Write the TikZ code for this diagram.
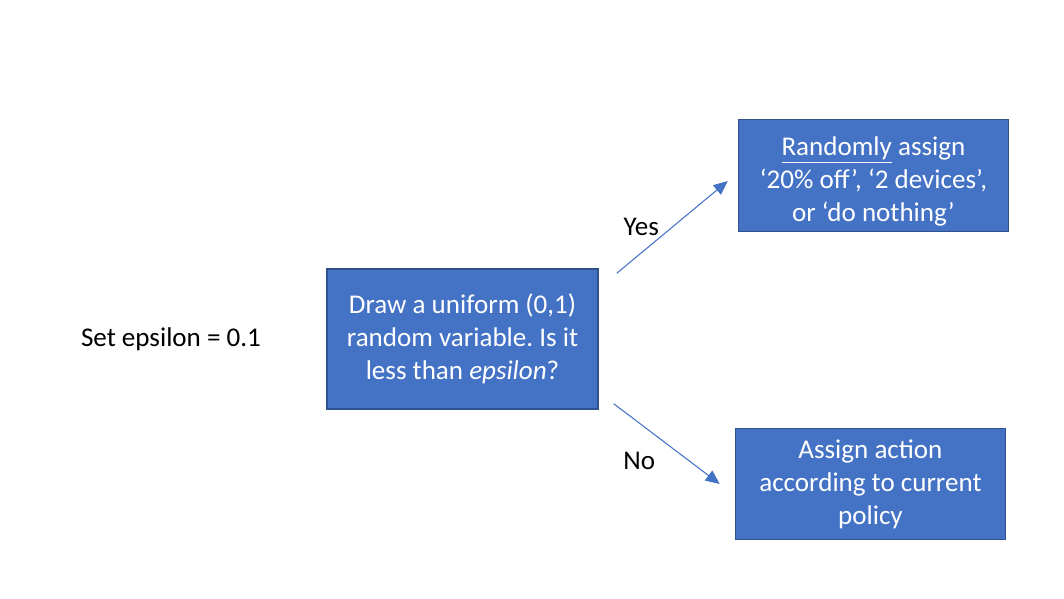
\documentclass[tikz,border=0pt]{standalone}
\usepackage{fontspec}
\setmainfont{Carlito}
\usepackage{xcolor}
\usetikzlibrary{positioning,arrows.meta,calc}

\definecolor{boxblue}{HTML}{4472C4}
\definecolor{boxedge}{HTML}{2F528F}

\tikzset{
    stepbox/.style={rectangle, fill=boxblue, draw=boxedge, line width=0.85pt, text=white, align=center, font=\fontsize{15.4}{18.7}\selectfont\frenchspacing},
    decide/.style={-{Triangle[length=8pt, width=7pt]}, draw=boxblue, line width=0.6pt},
    lbl/.style={font=\fontsize{15.4}{18.7}\selectfont, text=black}
}

\begin{document}
\begin{tikzpicture}[x=0.02cm, y=-0.02cm]
        \useasboundingbox (0,0) rectangle (1064,598); % page size
        \node [stepbox, minimum width=5.42cm, minimum height=2.8cm] (draw) at (462.5,339) {Draw a uniform (0,1)\\random variable. Is it\\less than \textit{epsilon}?}; % middle box
        \node [lbl, inner sep=0pt, left=1.3cm of draw] (eps) {Set epsilon = 0.1}; % start text
        \node [stepbox, minimum width=5.4cm, minimum height=2.22cm, anchor=south west] (rand) at ($(draw.north east)+(139,-36)$) {\rule{0pt}{17pt}\underline{Randomly} assign\\‘20\% off’, ‘2 devices’,\\or ‘do nothing’}; % explore box
        \node [stepbox, minimum width=5.4cm, minimum height=2.22cm, anchor=north west] (policy) at ($(draw.south east)+(136,18)$) {Assign action\\according to current\\policy}; % exploit box
        \coordinate (yesfrom) at ($(draw.north east)+(18,5)$); % arrow start, yes
        \coordinate (yesto) at ($(rand.west)+(-10,5.5)$); % arrow tip, yes
        \coordinate (nofrom) at ($(draw.south east)+(15,-6)$); % arrow start, no
        \coordinate (noto) at ($(policy.west)+(-15,0)$); % arrow tip, no
        \draw [decide] (yesfrom) -- node [lbl, midway, left=4pt] (yes) {Yes} (yesto);
        \draw [decide] (nofrom) -- node [lbl, midway, below left=1pt and 3pt] (no) {No} (noto);
    \end{tikzpicture}
\end{document}
